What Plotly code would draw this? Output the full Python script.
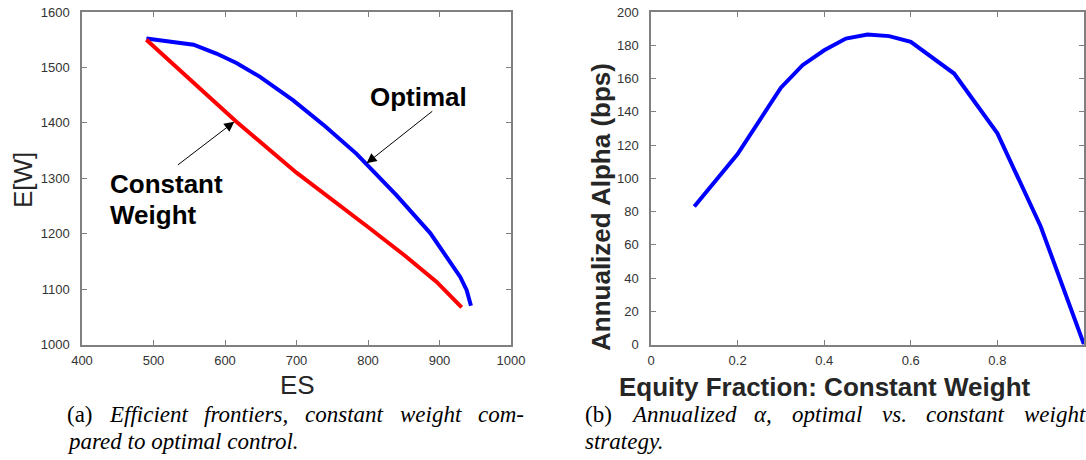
import plotly.graph_objects as go

# ---------------- data ----------------
es_optimal = [490, 556, 588, 616, 649, 695, 740, 784, 840, 887, 929, 938, 944]
ew_optimal = [1552, 1541, 1525, 1508, 1483, 1441, 1394, 1344, 1269, 1201, 1122, 1098, 1070]
es_constant = [490, 550, 616, 700, 750, 800, 850, 896, 931]
ew_constant = [1550, 1480, 1402, 1310, 1262, 1212, 1162, 1113, 1067]

equity_fraction = [0.1, 0.2, 0.3, 0.35, 0.4, 0.45, 0.5, 0.55, 0.6, 0.7, 0.8, 0.9, 1.0]
alpha_bps = [83, 114.5, 154.5, 168, 177, 184, 186.5, 185.5, 182, 163, 127, 71, 0]

left_xticks = [400, 500, 600, 700, 800, 900, 1000]
left_yticks = [1000, 1100, 1200, 1300, 1400, 1500, 1600]
right_xticks = [0, 0.2, 0.4, 0.6, 0.8, 1.0]
right_xticklabels = ["0", "0.2", "0.4", "0.6", "0.8", "1"]
right_yticks = [0, 20, 40, 60, 80, 100, 120, 140, 160, 180, 200]

caption_a1 = ["(a)", "<i>Efficient</i>", "<i>frontiers,</i>", "<i>constant</i>", "<i>weight</i>", "<i>com-</i>"]
caption_a2 = "<i>pared to optimal control.</i>"
caption_b1 = ["(b)", "<i>Annualized</i>", "<i>α,</i>", "<i>optimal</i>", "<i>vs.</i>", "<i>constant</i>", "<i>weight</i>"]
caption_b2 = "<i>strategy.</i>"

W, H = 1086, 460


def px(x):
    return x / W


def py(y):
    return 1 - y / H


SANS = "Liberation Sans"
SERIF = "Liberation Serif"

fig = go.Figure()
fig.add_trace(go.Scatter(x=es_optimal, y=ew_optimal, mode="lines",
                         line=dict(color="#0000ff", width=4), xaxis="x", yaxis="y",
                         showlegend=False))
fig.add_trace(go.Scatter(x=es_constant, y=ew_constant, mode="lines",
                         line=dict(color="#ff0000", width=4), xaxis="x", yaxis="y",
                         showlegend=False))
fig.add_trace(go.Scatter(x=equity_fraction, y=alpha_bps, mode="lines",
                         line=dict(color="#0000ff", width=4), xaxis="x2", yaxis="y2",
                         showlegend=False))

axis_common = dict(showline=True, linecolor="#808080", linewidth=1.5, mirror="ticks",
                   ticks="inside", ticklen=5, tickwidth=1.2, tickcolor="#808080",
                   showgrid=False, zeroline=False, automargin=False,
                   tickfont=dict(family=SANS, size=13, color="#333333"))

y_dom = [py(344.5), py(12)]

fig.update_layout(
    width=W, height=H,
    margin=dict(l=0, r=0, t=0, b=0, autoexpand=False),
    paper_bgcolor="white", plot_bgcolor="white",
    xaxis=dict(domain=[px(82), px(511)], range=[400, 1000], tickvals=left_xticks,
               anchor="y", ticklabelstandoff=3, **axis_common),
    yaxis=dict(domain=y_dom, range=[1000, 1600], tickvals=left_yticks,
               anchor="x", ticklabelstandoff=8, **axis_common),
    xaxis2=dict(domain=[px(651), px(1084)], range=[0, 1], tickvals=right_xticks,
                ticktext=right_xticklabels, anchor="y2", ticklabelstandoff=3, **axis_common),
    yaxis2=dict(domain=y_dom, range=[0, 200], tickvals=right_yticks,
                anchor="x2", ticklabelstandoff=8, **axis_common),
)

ann = []


def paper_text(text, x, y, font, xanchor="center", textangle=0):
    return dict(text=text, x=px(x), y=py(y), xref="paper", yref="paper",
                showarrow=False, xanchor=xanchor, yanchor="middle",
                textangle=textangle, font=font)


title_font = dict(family=SANS, size=26, color="#262626")
# axis titles
ann.append(paper_text("ES", 297, 385, title_font))
ann.append(paper_text("E[W]", 23, 180, title_font, textangle=-90))
ann.append(paper_text("<b>Equity Fraction: Constant Weight</b>", 825, 387, title_font))
ann.append(paper_text("<b>Annualized Alpha (bps)</b>", 601, 207, title_font, textangle=-90))

# in-plot labels
label_font = dict(family=SANS, size=26, color="black")
ann.append(dict(text="<b>Optimal</b>", x=870, y=1446, xref="x", yref="y", showarrow=False,
                xanchor="center", yanchor="middle", font=label_font))
ann.append(dict(text="<b>Constant</b>", x=437, y=1289, xref="x", yref="y", showarrow=False,
                xanchor="left", yanchor="middle", font=label_font))
ann.append(dict(text="<b>Weight</b>", x=437, y=1233, xref="x", yref="y", showarrow=False,
                xanchor="left", yanchor="middle", font=label_font))
# arrows
ann.append(dict(text="", x=798, y=1327, ax=892, ay=1423, xref="x", yref="y",
                axref="x", ayref="y", showarrow=True, arrowhead=2, arrowsize=2,
                arrowwidth=1, arrowcolor="black"))
ann.append(dict(text="", x=613, y=1402, ax=532, ay=1322, xref="x", yref="y",
                axref="x", ayref="y", showarrow=True, arrowhead=2, arrowsize=2,
                arrowwidth=1, arrowcolor="black"))

# captions (word-placed to mimic justified LaTeX text)
a1_x = [65, 107, 202, 303, 398, 476]
b1_x = [583, 629, 752, 790, 880, 924, 1022]
line1_y, line2_y = 414, 441
cap_font = dict(family=SERIF, size=23, color="black")
for word, x in zip(caption_a1, a1_x):
    ann.append(paper_text(word, x, line1_y, cap_font, xanchor="left"))
ann.append(paper_text(caption_a2, 65, line2_y, cap_font, xanchor="left"))
for word, x in zip(caption_b1, b1_x):
    ann.append(paper_text(word, x, line1_y, cap_font, xanchor="left"))
ann.append(paper_text(caption_b2, 583, line2_y, cap_font, xanchor="left"))

fig.update_layout(annotations=ann)
fig.write_html("out.html")
